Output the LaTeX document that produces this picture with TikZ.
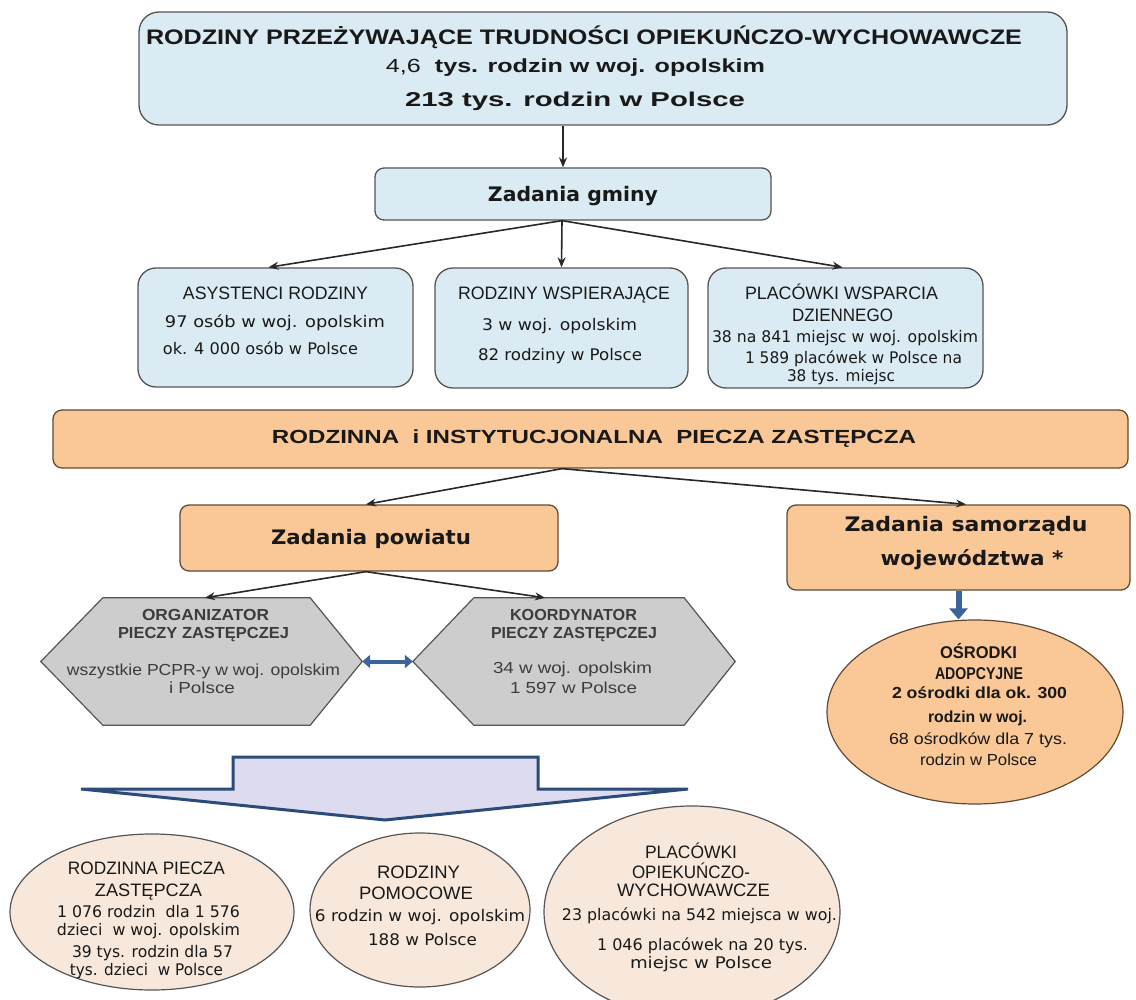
\documentclass[tikz,border=0pt]{standalone}
\usepackage{fontspec}
\setmainfont{Liberation Sans}
\newfontfamily\dejavu{DejaVu Sans}
\usepackage{graphicx}
\usetikzlibrary{arrows.meta,shapes.geometric,calc}
\newcommand\fitw[2]{\resizebox{#1pt}{\height}{#2}}
\definecolor{boxblue}{RGB}{219,235,243}
\definecolor{bordg}{RGB}{85,85,85}
\definecolor{orangef}{RGB}{250,200,150}
\definecolor{bordo}{RGB}{95,75,55}
\definecolor{hexg}{RGB}{205,205,205}
\definecolor{peach}{RGB}{247,232,219}
\definecolor{lav}{RGB}{221,219,239}
\definecolor{navy}{RGB}{45,75,120}
\definecolor{bluea}{RGB}{60,100,155}
\definecolor{txtc}{RGB}{25,25,25}
\definecolor{hext}{RGB}{60,60,60}
\definecolor{connc}{RGB}{40,40,40}
\begin{document}
\begin{tikzpicture}[x=1pt,y=-1pt,
  bluebox/.style={draw=bordg, line width=1.3pt, fill=boxblue, inner sep=0pt},
  orbox/.style={draw=bordo, line width=1.3pt, fill=orangef, inner sep=0pt, rounded corners=9pt},
  hexst/.style={draw=bordg, line width=1.2pt, fill=hexg},
  pell/.style={ellipse, draw=bordg, line width=1.2pt, fill=peach, inner sep=0pt},
  oell/.style={ellipse, draw=bordo, line width=1.2pt, fill=orangef, inner sep=0pt},
  ghost/.style={inner sep=0pt, draw=none},
  conn/.style={draw=connc, line width=1.6pt, -{Stealth[length=10pt,width=8pt]}},
  dblarr/.style={draw=bluea, line width=4pt, {Triangle[length=8pt,width=13pt]}-{Triangle[length=8pt,width=13pt]}},
  thickarr/.style={draw=bluea, line width=6pt, -{Triangle[length=11pt,width=18pt]}},
  lbl/.style={inner sep=0pt, anchor=base, text=txtc},
  capf/.style={font=\fontsize{18}{18}\selectfont},
  datf/.style={font=\dejavu\fontsize{16}{16}\selectfont},
  hcap/.style={font=\bfseries\fontsize{16}{16}\selectfont, text=hext},
  hdat/.style={font=\fontsize{16}{16}\selectfont, text=hext},
  zad/.style={font=\dejavu\bfseries\fontsize{20}{20}\selectfont}
]
\useasboundingbox (0,0) rectangle (1136,1000);
\fill[white] (0,0) rectangle (1136,1000);

% ---- boxes
\node[bluebox, rounded corners=20pt, minimum width=928, minimum height=113] (top) at (603,68.5) {};
\node[bluebox, rounded corners=9pt, minimum width=396, minimum height=52] (gminy) at (573,194) {};
\node[bluebox, rounded corners=18pt, minimum width=275, minimum height=119] (asyst) at (275.5,327.5) {};
\node[bluebox, rounded corners=18pt, minimum width=253, minimum height=120] (rodz) at (561.5,328) {};
\node[bluebox, rounded corners=18pt, minimum width=275, minimum height=120] (plac) at (845.5,328) {};
\node[orbox, minimum width=1075, minimum height=58] (bar) at (590.5,439) {};
\node[orbox, minimum width=378, minimum height=66] (pow) at (369,538) {};
\node[orbox, minimum width=343, minimum height=85] (samorz) at (958.5,547.5) {};

% ---- hexagons
\node[ghost, minimum width=321, minimum height=127] (org) at (201.5,661.5) {};
\node[ghost, minimum width=322, minimum height=127] (koord) at (574,661.5) {};
\draw[hexst] (org.west) -- ([xshift=62pt]org.north west) -- ([xshift=-52pt]org.north east) -- (org.east) -- ([xshift=-52pt]org.south east) -- ([xshift=62pt]org.south west) -- cycle;
\draw[hexst] (koord.west) -- ([xshift=61pt]koord.north west) -- ([xshift=-51pt]koord.north east) -- (koord.east) -- ([xshift=-51pt]koord.south east) -- ([xshift=61pt]koord.south west) -- cycle;

% ---- ellipses
\node[oell, minimum width=296, minimum height=184] (osr) at (975,712) {};
\node[pell, minimum width=284, minimum height=156] (e1) at (152,912) {};
\node[pell, minimum width=220, minimum height=154] (e2) at (420,910) {};
\node[pell, minimum width=296, minimum height=212] (e3) at (692,912) {};

% ---- big down arrow
\draw[draw=navy, line width=3pt, fill=lav, line join=miter]
  (233,757) -- (538,757) -- (538,789) -- (688,789) -- (385,820) -- (81,789) -- (233,789) -- cycle;

% ---- connectors
\coordinate (gsrc) at ([xshift=-11pt]gminy.south);
\coordinate (bsrc) at ([xshift=-28.5pt]bar.south);
\draw[conn] ([xshift=-10pt]gminy.north |- top.south) -- ([xshift=-10pt]gminy.north);
\draw[conn] (gsrc) -- ([xshift=-7pt]asyst.north);
\draw[conn] (gsrc) -- (rodz.north);
\draw[conn] (gsrc) -- ([xshift=-3pt]plac.north);
\draw[conn] (bsrc) -- ([xshift=-3pt]pow.north);
\draw[conn] (bsrc) -- ([xshift=7.5pt]samorz.north);
\draw[conn] ([xshift=-3pt]pow.south) -- ([xshift=3.5pt]org.north);
\draw[conn] ([xshift=-3pt]pow.south) -- ([xshift=-29pt]koord.north);
\draw[dblarr] (org.east) -- (koord.west);
\draw[thickarr] (samorz.south) -- (samorz.south |- osr.north);

% ---- texts: top
\node[lbl, font=\bfseries\fontsize{21}{21}\selectfont] (tt1) at (584,44.5) {\fitw{876}{RODZINY PRZEŻYWAJĄCE TRUDNOŚCI OPIEKUŃCZO-WYCHOWAWCZE}};
\node[lbl, font=\fontsize{19}{19}\selectfont] (tt2) at (575.5,72.8) {\fitw{379}{4,6\ \ \textbf{tys. rodzin w woj. opolskim}}};
\node[lbl, font=\bfseries\fontsize{20}{20}\selectfont] (tt3) at (575,106.2) {\fitw{340}{213 tys. rodzin w Polsce}};
\node[lbl, zad] (tg) at (573,201.3) {\fitw{170}{Zadania gminy}};

% middle boxes
\node[lbl, capf] (a1) at (275.5,299.4) {\fitw{185}{ASYSTENCI RODZINY}};
\node[lbl, datf] (a2) at (275,327.8) {\fitw{220}{97 osób w woj. opolskim}};
\node[lbl, datf] (a3) at (260.5,354.8) {\fitw{195}{ok. 4 000 osób w Polsce}};
\node[lbl, capf] (r1) at (564,299.4) {\fitw{212}{RODZINY WSPIERAJĄCE}};
\node[lbl, datf] (r2) at (559.5,330.8) {\fitw{155}{3 w woj. opolskim}};
\node[lbl, datf] (r3) at (560,360.8) {\fitw{164}{82 rodziny w Polsce}};
\node[lbl, capf] (p1) at (841.5,299.4) {\fitw{193}{PLACÓWKI WSPARCIA}};
\node[lbl, capf] (p2) at (842.5,321.4) {\fitw{101}{DZIENNEGO}};
\node[lbl, datf] (p3) at (845,342.8) {\fitw{266}{38 na 841 miejsc w woj. opolskim}};
\node[lbl, datf] (p4) at (853.5,363.8) {\fitw{217}{1 589 placówek w Polsce na}};
\node[lbl, datf] (p5) at (841,381.8) {\fitw{108}{38 tys. miejsc}};

% bar and tasks
\node[lbl, font=\bfseries\fontsize{19}{19}\selectfont] (tb) at (594,443.8) {\fitw{644}{RODZINNA\ \ i INSTYTUCJONALNA\ \ PIECZA ZASTĘPCZA}};
\node[lbl, zad] (tp) at (371,544.3) {\fitw{200}{Zadania powiatu}};
\node[lbl, zad] (ts1) at (966,531.3) {\fitw{243}{Zadania samorządu}};
\node[lbl, zad] (ts2) at (972,565.3) {\fitw{183}{województwa *}};

% hexagon texts
\node[lbl, hcap] (o1) at (205.5,620.7) {\fitw{127}{ORGANIZATOR}};
\node[lbl, hcap] (o2) at (203.5,638.7) {\fitw{171}{PIECZY ZASTĘPCZEJ}};
\node[lbl, hdat] (o3) at (203.5,675.7) {\fitw{273}{wszystkie PCPR-y w woj. opolskim}};
\node[lbl, hdat] (o4) at (202,693.7) {\fitw{66}{i Polsce}};
\node[lbl, hcap] (k1) at (573.5,620.7) {\fitw{127}{KOORDYNATOR}};
\node[lbl, hcap] (k2) at (574,638.7) {\fitw{166}{PIECZY ZASTĘPCZEJ}};
\node[lbl, hdat] (k3) at (572.5,673.7) {\fitw{159}{34 w woj. opolskim}};
\node[lbl, hdat] (k4) at (573.5,693.7) {\fitw{127}{1 597 w Polsce}};

% adoption centres
\node[lbl, font=\bfseries\fontsize{17}{17}\selectfont] (s1) at (978.5,658.1) {\fitw{77}{OŚRODKI}};
\node[lbl, font=\bfseries\fontsize{17}{17}\selectfont] (s2) at (979,679.1) {\fitw{88}{ADOPCYJNE}};
\node[lbl, font=\bfseries\fontsize{16}{16}\selectfont] (s3) at (979.5,698.7) {\fitw{175}{2 ośrodki dla ok. 300}};
\node[lbl, font=\bfseries\fontsize{16}{16}\selectfont] (s4) at (977.5,722.7) {\fitw{99}{rodzin w woj.}};
\node[lbl, font=\fontsize{16}{16}\selectfont] (s5) at (978,744.7) {\fitw{178}{68 ośrodków dla 7 tys.}};
\node[lbl, font=\fontsize{16}{16}\selectfont] (s6) at (978.5,765.7) {\fitw{117}{rodzin w Polsce}};

% bottom ellipses
\node[lbl, capf] (e1a) at (146.5,874.4) {\fitw{157}{RODZINNA PIECZA}};
\node[lbl, capf] (e1b) at (148.5,896.4) {\fitw{107}{ZASTĘPCZA}};
\node[lbl, datf] (e1c) at (148.5,917.8) {\fitw{183}{1 076 rodzin\ \ dla 1 576}};
\node[lbl, datf] (e1d) at (148.5,935.8) {\fitw{183}{dzieci\ \ w woj. opolskim}};
\node[lbl, datf] (e1e) at (152.5,957.8) {\fitw{161}{39 tys. rodzin dla 57}};
\node[lbl, datf] (e1f) at (146.5,975.8) {\fitw{153}{tys. dzieci\ \ w Polsce}};

\node[lbl, capf] (e2a) at (418.5,878.4) {\fitw{83}{RODZINY}};
\node[lbl, capf] (e2b) at (416,899.4) {\fitw{114}{POMOCOWE}};
\node[lbl, datf] (e2c) at (420,921.8) {\fitw{210}{6 rodzin w woj. opolskim}};
\node[lbl, datf] (e2d) at (422.5,945.8) {\fitw{109}{188 w Polsce}};

\node[lbl, capf] (e3a) at (691,858.4) {\fitw{92}{PLACÓWKI}};
\node[lbl, capf] (e3b) at (691,878.4) {\fitw{118}{OPIEKUŃCZO-}};
\node[lbl, capf] (e3c) at (693.5,896.4) {\fitw{153}{WYCHOWAWCZE}};
\node[lbl, datf] (e3d) at (699.5,920.8) {\fitw{275}{23 placówki na 542 miejsca w woj.}};
\node[lbl, datf] (e3e) at (702.5,950.8) {\fitw{211}{1 046 placówek na 20 tys.}};
\node[lbl, datf] (e3f) at (701,968.8) {\fitw{142}{miejsc w Polsce}};
\end{tikzpicture}
\end{document}
